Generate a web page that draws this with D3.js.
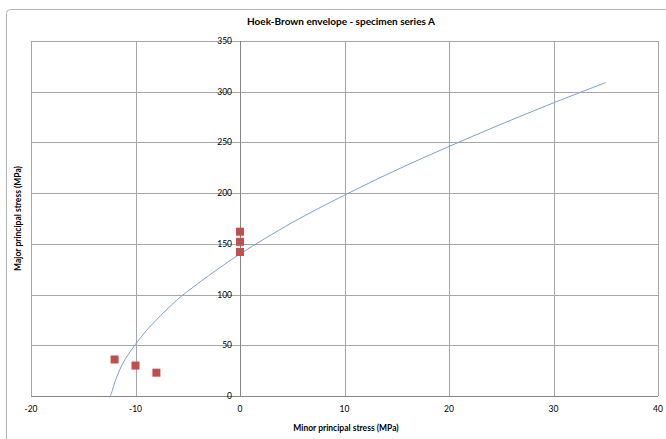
<!DOCTYPE html>
<html>
<head>
<meta charset="utf-8">
<title>Hoek-Brown envelope</title>
<script src="https://cdnjs.cloudflare.com/ajax/libs/d3/7.8.5/d3.min.js"></script>
<style>
  body { margin: 0; background: #fff; }
  text { font-family: Lato, "Open Sans", sans-serif; fill: #000; }
</style>
</head>
<body>
<div id="chart"></div>
<script>

// envelope (minor, major principal stress)
var envMinor = [-12.4, -12.2, -12, -11.5, -11, -10, -9, -8, -6, -4, -2, 0, 5, 10, 15, 20, 25, 30, 35];
var envMajor = [0, 6, 13, 26, 36, 51, 64, 75, 95, 111, 126, 140, 171, 198, 223, 246, 268, 289, 309];

// test specimens
var testMinor = [-12, -10, -8, 0, 0, 0];
var testMajor = [36, 30, 23, 162, 152, 142];

var xTicks = [-20, -10, 0, 10, 20, 30, 40];
var yTicks = [0, 50, 100, 150, 200, 250, 300, 350];

var W = 666, H = 439;
var margin = { top: 41, right: 8, bottom: 43, left: 31 };
var width = W - margin.left - margin.right;
var height = H - margin.top - margin.bottom;

var svg = d3.select("#chart").append("svg")
    .attr("width", W)
    .attr("height", H);

// outer chart frame
svg.append("rect")
    .attr("x", 6.5).attr("y", 9.5)
    .attr("width", W + 20).attr("height", H + 20)
    .attr("rx", 4)
    .attr("fill", "none")
    .attr("stroke", "#b4b4b4");

var x = d3.scaleLinear().domain([-20, 40]).range([0, width]);
var y = d3.scaleLinear().domain([0, 350]).range([height, 0]);

var g = svg.append("g")
    .attr("transform", "translate(" + margin.left + "," + margin.top + ")");

// grid
g.selectAll(".vgrid")
    .data(xTicks)
    .enter().append("line")
    .attr("x1", function (d) { return Math.round(x(d)) + 0.5; })
    .attr("x2", function (d) { return Math.round(x(d)) + 0.5; })
    .attr("y1", 0).attr("y2", height)
    .attr("stroke", "#a6a6a6");

g.selectAll(".hgrid")
    .data(yTicks)
    .enter().append("line")
    .attr("x1", 0).attr("x2", width)
    .attr("y1", function (d) { return Math.round(y(d)) + 0.5; })
    .attr("y2", function (d) { return Math.round(y(d)) + 0.5; })
    .attr("stroke", "#a6a6a6");

// axes through the origin
g.append("line")
    .attr("x1", Math.round(x(0)) + 0.5).attr("x2", Math.round(x(0)) + 0.5)
    .attr("y1", 0).attr("y2", height)
    .attr("stroke", "#868686");
g.append("line")
    .attr("x1", 0).attr("x2", width)
    .attr("y1", Math.round(y(0)) + 0.5).attr("y2", Math.round(y(0)) + 0.5)
    .attr("stroke", "#868686");

// tick labels
g.selectAll(".xlab")
    .data(xTicks)
    .enter().append("text")
    .attr("x", function (d) { return x(d); })
    .attr("y", height + 16)
    .attr("text-anchor", "middle")
    .style("font-size", "8.5px")
    .text(function (d) { return d; });

g.selectAll(".ylab")
    .data(yTicks)
    .enter().append("text")
    .attr("x", x(0) - 8)
    .attr("y", function (d) { return y(d); })
    .attr("dy", "0.35em")
    .attr("text-anchor", "end")
    .style("font-size", "8.5px")
    .text(function (d) { return d; });

// envelope
var env = envMinor.map(function (d, i) { return [d, envMajor[i]]; });
var line = d3.line()
    .x(function (d) { return x(d[0]); })
    .y(function (d) { return y(d[1]); })
    .curve(d3.curveCatmullRom.alpha(0.5));

g.append("path")
    .datum(env)
    .attr("d", line)
    .attr("fill", "none")
    .attr("stroke", "#7aa0d4")
    .attr("stroke-width", 1);

// specimens
var pts = testMinor.map(function (d, i) { return [d, testMajor[i]]; });
g.selectAll(".dot")
    .data(pts)
    .enter().append("rect")
    .attr("x", function (d) { return x(d[0]) - 4; })
    .attr("y", function (d) { return y(d[1]) - 4; })
    .attr("width", 8).attr("height", 8)
    .attr("fill", "#c0504d");

// titles
svg.append("text")
    .attr("x", 341)
    .attr("y", 25)
    .attr("text-anchor", "middle")
    .style("font-size", "10px")
    .style("font-weight", "bold")
    .text("Hoek-Brown envelope - specimen series A");

svg.append("text")
    .attr("x", 346)
    .attr("y", 431)
    .attr("text-anchor", "middle")
    .style("font-size", "8.5px")
    .style("font-weight", "bold")
    .text("Minor principal stress (MPa)");

svg.append("text")
    .attr("transform", "translate(21," + (margin.top + height / 2) + ") rotate(-90)")
    .attr("text-anchor", "middle")
    .style("font-size", "8.5px")
    .style("font-weight", "bold")
    .text("Major principal stress (MPa)");
</script>
</body>
</html>
